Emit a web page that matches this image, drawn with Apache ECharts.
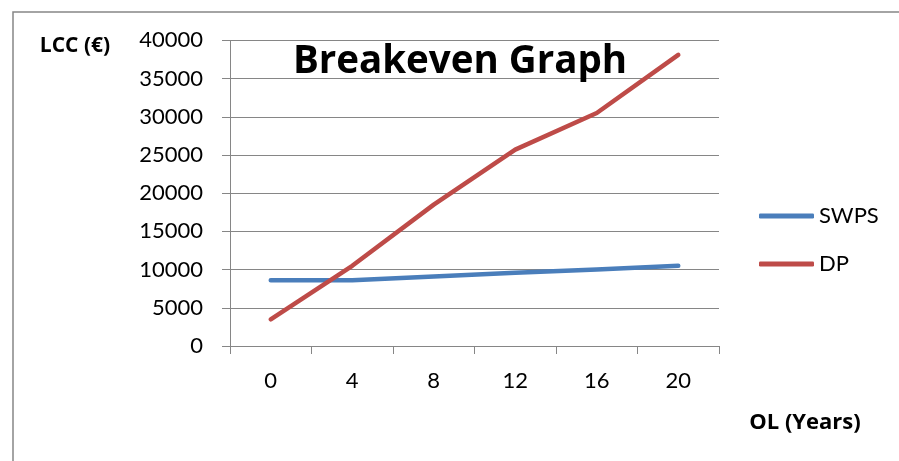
<!DOCTYPE html>
<html>
<head>
<meta charset="utf-8">
<script src="https://cdn.jsdelivr.net/npm/echarts@6/dist/echarts.min.js"></script>
<style>
  html, body { margin: 0; padding: 0; background: #ffffff; }
  #chart { width: 899px; height: 461px; }
</style>
</head>
<body>
<div id="chart"></div>
<script>
// Operating life (years) on the category axis
const years = ['0', '4', '8', '12', '16', '20'];
// Life-cycle cost (€) of each system
const swps = [8600, 8600, 9100, 9600, 10000, 10500];
const dp = [3500, 10500, 18500, 25700, 30500, 38100];
// Value axis range and step
const yMin = 0;
const yMax = 40000;
const yStep = 5000;

const FONT = 'Lato';
const BOLD_FONT = '"Open Sans"';
const AXIS_GRAY = '#868686';
const BLUE = '#4A7EBB';
const RED = '#BE4B48';

const chart = echarts.init(document.getElementById('chart'), null, { renderer: 'canvas' });

chart.setOption({
  backgroundColor: '#ffffff',
  animation: false,
  textStyle: { fontFamily: FONT },
  grid: { left: 230, right: 180, top: 40.4, bottom: 115, containLabel: false },
  legend: {
    orient: 'vertical',
    left: 754,
    top: 199,
    itemWidth: 55,
    itemHeight: 5,
    itemGap: 24,
    icon: 'roundRect',
    textStyle: { fontFamily: FONT, fontSize: 22, color: '#000000', lineHeight: 24, padding: [0, 0, 0, 0] },
    data: ['SWPS', 'DP']
  },
  xAxis: {
    type: 'category',
    data: years,
    boundaryGap: true,
    axisLine: { lineStyle: { color: AXIS_GRAY, width: 1 } },
    axisTick: { show: true, alignWithLabel: false, length: 8, lineStyle: { color: AXIS_GRAY } },
    axisLabel: { color: '#000000', fontSize: 22, fontFamily: FONT, margin: 24 },
    splitLine: { show: false }
  },
  yAxis: {
    type: 'value',
    min: yMin,
    max: yMax,
    interval: yStep,
    axisLine: { show: true, lineStyle: { color: AXIS_GRAY, width: 1 } },
    axisTick: { show: true, length: 8, lineStyle: { color: AXIS_GRAY } },
    axisLabel: {
      color: '#000000', fontSize: 22, fontFamily: FONT, margin: 27,
      formatter: (v) => String(v)
    },
    splitLine: { show: true, lineStyle: { color: AXIS_GRAY, width: 1 } }
  },
  series: [
    {
      name: 'SWPS',
      type: 'line',
      data: swps,
      symbol: 'none',
      color: BLUE,
      lineStyle: { color: BLUE, width: 4.5, cap: 'round', join: 'round' }
    },
    {
      name: 'DP',
      type: 'line',
      data: dp,
      symbol: 'none',
      color: RED,
      lineStyle: { color: RED, width: 4.5, cap: 'round', join: 'round' }
    }
  ],
  graphic: [
    {
      type: 'rect',
      z: -10,
      silent: true,
      shape: { x: 13, y: 12, width: 920, height: 480 },
      style: { fill: 'none', stroke: AXIS_GRAY, lineWidth: 1.5 }
    },
    {
      type: 'text',
      z: 100,
      style: {
        text: 'Breakeven Graph',
        x: 460, y: 62,
        textAlign: 'center',
        textVerticalAlign: 'middle',
        font: 'bold 38.5px ' + BOLD_FONT,
        fill: '#000000'
      }
    },
    {
      type: 'text',
      style: {
        text: 'LCC (€)',
        x: 75, y: 46,
        textAlign: 'center',
        textVerticalAlign: 'middle',
        font: 'bold 21px ' + BOLD_FONT,
        fill: '#000000'
      }
    },
    {
      type: 'text',
      style: {
        text: 'OL (Years)',
        x: 805, y: 423,
        textAlign: 'center',
        textVerticalAlign: 'middle',
        font: 'bold 22px ' + BOLD_FONT,
        fill: '#000000'
      }
    }
  ]
});
</script>
</body>
</html>
